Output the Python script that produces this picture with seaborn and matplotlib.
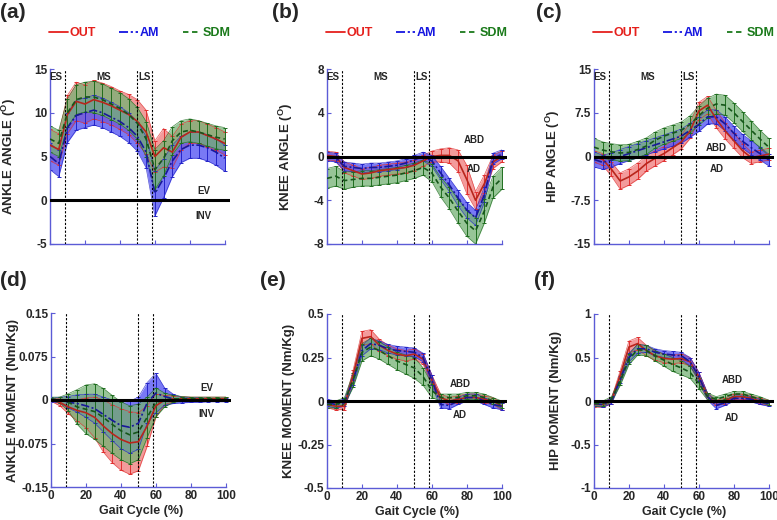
import numpy as np
import pandas as pd
import matplotlib
matplotlib.use('Agg')
import matplotlib.pyplot as plt
import matplotlib.transforms as mtransforms
from matplotlib.lines import Line2D
import seaborn as sns

# gait cycle sampling (%)
pct = list(range(0, 101, 5))
groups = ['OUT', 'AM', 'SDM']

# (a) ankle angle (deg)
ankle_ang_out = [6.3, 5.8, 9.8, 11.3, 11.0, 11.5, 11.2, 10.8, 10.3, 9.8, 9.0, 7.8, 5.0, 6.0, 5.5, 7.2, 7.8, 7.8, 7.4, 7.0, 6.5]
ankle_ang_out_sd = [1.8, 1.8, 2.2, 2.2, 2.2, 2.2, 2.2, 2.2, 2.2, 2.3, 2.5, 2.5, 1.8, 2.2, 1.8, 1.5, 1.3, 1.3, 1.3, 1.3, 1.3]
ankle_ang_am = [5.0, 4.2, 8.3, 9.7, 10.0, 10.3, 10.0, 9.5, 9.0, 8.3, 7.3, 5.5, 0.8, 2.5, 4.5, 5.8, 6.3, 6.3, 6.0, 5.5, 4.8]
ankle_ang_am_sd = [1.5, 1.5, 1.7, 1.7, 1.7, 1.7, 1.7, 1.7, 1.7, 1.7, 1.7, 1.8, 2.6, 2.2, 1.8, 1.5, 1.5, 1.5, 1.5, 1.5, 1.5]
ankle_ang_sdm = [7.0, 6.5, 10.0, 11.5, 11.8, 11.8, 11.5, 11.0, 10.5, 9.8, 8.8, 7.0, 3.5, 4.8, 6.8, 7.8, 8.0, 7.8, 7.5, 7.2, 7.0]
ankle_ang_sdm_sd = [1.5, 1.5, 1.6, 1.7, 1.7, 1.8, 1.8, 1.8, 1.8, 1.8, 1.8, 2.0, 2.3, 2.0, 1.6, 1.3, 1.3, 1.3, 1.3, 1.3, 1.3]

# (b) knee angle (deg)
knee_ang_out = [0.1, 0.0, -1.0, -1.3, -1.6, -1.5, -1.3, -1.2, -1.1, -1.0, -0.8, -0.4, 0.0, 0.1, 0.1, -0.4, -2.1, -4.0, -2.5, -0.5, 0.0]
knee_ang_out_sd = [0.4, 0.4, 0.5, 0.5, 0.5, 0.5, 0.5, 0.5, 0.5, 0.5, 0.5, 0.5, 0.5, 0.6, 0.7, 1.0, 1.3, 0.8, 0.8, 0.6, 0.5]
knee_ang_am = [0.0, -0.1, -0.9, -1.0, -1.1, -1.0, -1.0, -0.9, -0.8, -0.6, -0.3, 0.0, -0.4, -1.5, -2.6, -3.8, -4.9, -5.6, -3.5, -0.2, 0.2]
knee_ang_am_sd = [0.4, 0.4, 0.4, 0.4, 0.4, 0.4, 0.4, 0.4, 0.4, 0.4, 0.4, 0.4, 0.5, 0.6, 0.6, 0.7, 0.7, 0.7, 0.7, 0.5, 0.4]
knee_ang_sdm = [-2.0, -1.8, -2.2, -2.1, -2.0, -2.0, -1.9, -1.8, -1.7, -1.5, -1.3, -1.0, -1.5, -2.8, -3.8, -5.0, -6.1, -6.8, -5.0, -2.8, -2.0]
knee_ang_sdm_sd = [0.9, 0.9, 0.8, 0.7, 0.7, 0.7, 0.7, 0.7, 0.7, 0.7, 0.7, 0.7, 0.8, 0.9, 1.0, 1.1, 1.2, 1.2, 1.1, 1.0, 1.0]

# (c) hip angle (deg)
hip_ang_out = [0.0, -0.5, -2.2, -4.2, -3.5, -2.5, -1.2, -0.3, 0.5, 1.5, 2.5, 4.4, 7.8, 8.8, 6.4, 4.4, 2.7, 1.0, -0.2, 0.1, 0.4]
hip_ang_out_sd = [1.0, 1.0, 1.2, 1.4, 1.4, 1.4, 1.3, 1.3, 1.2, 1.2, 1.2, 1.3, 1.5, 1.5, 1.5, 1.4, 1.3, 1.2, 1.0, 1.0, 1.0]
hip_ang_am = [-0.5, -1.0, -0.6, 0.0, 0.5, 1.0, 1.5, 2.0, 2.5, 3.0, 3.5, 4.5, 5.5, 6.8, 6.8, 5.6, 4.0, 2.6, 1.5, 0.5, -0.6]
hip_ang_am_sd = [1.3, 1.2, 1.2, 1.2, 1.2, 1.2, 1.2, 1.2, 1.2, 1.2, 1.2, 1.2, 1.2, 1.2, 1.2, 1.2, 1.2, 1.2, 1.2, 1.1, 1.0]
hip_ang_sdm = [1.6, 1.1, 0.8, 0.6, 0.7, 1.2, 1.8, 2.8, 3.5, 4.0, 4.5, 5.5, 7.0, 8.3, 9.0, 8.8, 7.5, 6.0, 4.5, 3.0, 1.6]
hip_ang_sdm_sd = [1.5, 1.4, 1.4, 1.4, 1.4, 1.4, 1.4, 1.4, 1.4, 1.4, 1.4, 1.5, 1.6, 1.7, 1.7, 1.7, 1.7, 1.7, 1.6, 1.5, 1.5]

# (d) ankle moment (Nm/Kg)
ankle_mom_out = [0.0, -0.004, -0.012, -0.018, -0.022, -0.03, -0.045, -0.058, -0.068, -0.074, -0.072, -0.045, -0.01, 0.0, 0.002, 0.002, 0.002, 0.002, 0.002, 0.002, 0.002]
ankle_mom_out_sd = [0.002, 0.006, 0.012, 0.018, 0.026, 0.035, 0.045, 0.05, 0.053, 0.054, 0.05, 0.035, 0.02, 0.008, 0.005, 0.004, 0.003, 0.003, 0.003, 0.003, 0.003]
ankle_mom_am = [0.0, 0.0, -0.004, -0.006, -0.01, -0.015, -0.025, -0.035, -0.044, -0.047, -0.04, -0.005, 0.012, 0.006, 0.002, 0.0, 0.0, 0.0, 0.0, 0.0, 0.0]
ankle_mom_am_sd = [0.003, 0.005, 0.01, 0.015, 0.02, 0.025, 0.03, 0.035, 0.04, 0.045, 0.045, 0.035, 0.034, 0.015, 0.008, 0.005, 0.004, 0.004, 0.003, 0.003, 0.003]
ankle_mom_sdm = [0.002, 0.0, -0.004, -0.012, -0.016, -0.02, -0.03, -0.042, -0.053, -0.06, -0.055, -0.03, -0.004, 0.0, 0.002, 0.002, 0.002, 0.002, 0.002, 0.002, 0.002]
ankle_mom_sdm_sd = [0.003, 0.005, 0.015, 0.03, 0.042, 0.048, 0.05, 0.05, 0.05, 0.05, 0.048, 0.035, 0.025, 0.012, 0.006, 0.004, 0.003, 0.003, 0.003, 0.003, 0.003]

# (e) knee moment (Nm/Kg)
knee_mom_out = [-0.02, -0.03, -0.03, 0.15, 0.36, 0.37, 0.32, 0.29, 0.27, 0.26, 0.27, 0.24, 0.12, 0.02, 0.0, 0.01, 0.02, 0.02, 0.01, 0.0, -0.03]
knee_mom_out_sd = [0.02, 0.02, 0.02, 0.03, 0.04, 0.04, 0.035, 0.03, 0.03, 0.03, 0.03, 0.03, 0.03, 0.02, 0.02, 0.02, 0.02, 0.02, 0.02, 0.02, 0.02]
knee_mom_am = [-0.01, -0.02, -0.01, 0.12, 0.29, 0.33, 0.32, 0.30, 0.29, 0.285, 0.28, 0.25, 0.12, -0.02, -0.025, 0.0, 0.02, 0.02, 0.0, -0.02, -0.03]
knee_mom_am_sd = [0.02, 0.02, 0.02, 0.03, 0.03, 0.03, 0.025, 0.025, 0.025, 0.025, 0.025, 0.025, 0.03, 0.02, 0.02, 0.02, 0.02, 0.02, 0.02, 0.02, 0.02]
knee_mom_sdm = [-0.02, -0.02, 0.0, 0.12, 0.28, 0.31, 0.29, 0.26, 0.23, 0.21, 0.19, 0.14, 0.06, 0.02, 0.02, 0.02, 0.03, 0.03, 0.02, 0.0, -0.02]
knee_mom_sdm_sd = [0.02, 0.02, 0.02, 0.04, 0.05, 0.05, 0.05, 0.05, 0.05, 0.055, 0.06, 0.05, 0.04, 0.02, 0.02, 0.02, 0.02, 0.02, 0.02, 0.02, 0.02]

# (f) hip moment (Nm/Kg)
hip_mom_out = [-0.04, -0.04, 0.0, 0.3, 0.62, 0.66, 0.58, 0.52, 0.49, 0.48, 0.49, 0.45, 0.28, 0.05, -0.02, 0.0, 0.05, 0.05, 0.03, 0.0, -0.02]
hip_mom_out_sd = [0.03, 0.03, 0.03, 0.05, 0.07, 0.07, 0.06, 0.05, 0.05, 0.05, 0.05, 0.05, 0.05, 0.04, 0.03, 0.03, 0.03, 0.03, 0.03, 0.03, 0.03]
hip_mom_am = [-0.03, -0.04, 0.0, 0.25, 0.5, 0.6, 0.6, 0.56, 0.54, 0.53, 0.52, 0.45, 0.28, 0.05, -0.05, -0.02, 0.03, 0.03, 0.02, -0.01, -0.03]
hip_mom_am_sd = [0.03, 0.03, 0.03, 0.04, 0.05, 0.05, 0.04, 0.04, 0.04, 0.04, 0.04, 0.05, 0.05, 0.04, 0.04, 0.03, 0.03, 0.03, 0.03, 0.03, 0.03]
hip_mom_sdm = [-0.03, -0.03, 0.02, 0.23, 0.48, 0.59, 0.58, 0.52, 0.47, 0.42, 0.38, 0.33, 0.2, 0.05, 0.02, 0.05, 0.08, 0.08, 0.05, 0.02, -0.02]
hip_mom_sdm_sd = [0.03, 0.03, 0.03, 0.05, 0.06, 0.06, 0.06, 0.06, 0.07, 0.08, 0.08, 0.07, 0.06, 0.04, 0.03, 0.03, 0.03, 0.03, 0.03, 0.03, 0.03]

# phase boundaries (% gait cycle) and phase labels
phase_lines = [8.5, 50, 58.5]
phase_labels = ['ES', 'MS', 'LS']
phase_label_x = [3.5, 31, 54]

legend_col = {'OUT': '#e5201c', 'AM': '#1515e0', 'SDM': '#1b7a1b'}
line_col = {'OUT': '#b8261c', 'AM': '#18189a', 'SDM': '#16561a'}
band_col = {'OUT': '#f07a7a', 'AM': '#4c4cf2', 'SDM': '#74b274'}
bar_col = {'OUT': '#e03030', 'AM': '#2424c8', 'SDM': '#1f6e1f'}
dash_map = {'OUT': '', 'AM': (5, 1.5, 1.2, 1.5), 'SDM': (3, 2)}
spine_col = '#5b5bd6'

panels = [
    dict(letter='(a)', pos=[50, 69, 180, 175], ylabel=r'ANKLE ANGLE ($\mathbf{^{O}}$)',
         ylim=(-5, 15), yticks=[-5, 0, 5, 10, 15], yticklabels=['-5', '0', '5', '10', '15'],
         data=[ankle_ang_out, ankle_ang_am, ankle_ang_sdm], sd=[ankle_ang_out_sd, ankle_ang_am_sd, ankle_ang_sdm_sd],
         notes=[('EV', 88, 1.1), ('INV', 88, -1.8)], top=True, lx=0, ly=12),
    dict(letter='(b)', pos=[327, 69, 180, 175], ylabel=r'KNEE ANGLE ($\mathbf{^{O}}$)',
         ylim=(-8, 8), yticks=[-8, -4, 0, 4, 8], yticklabels=['-8', '-4', '0', '4', '8'],
         data=[knee_ang_out, knee_ang_am, knee_ang_sdm], sd=[knee_ang_out_sd, knee_ang_am_sd, knee_ang_sdm_sd],
         notes=[('ABD', 84, 1.5), ('AD', 84, -1.1)], top=True, lx=272, ly=12),
    dict(letter='(c)', pos=[594, 69, 180, 175], ylabel=r'HIP ANGLE ($\mathbf{^{O}}$)',
         ylim=(-15, 15), yticks=[-15, -7.5, 0, 7.5, 15], yticklabels=['-15', '-7.5', '0', '7.5', '15'],
         data=[hip_ang_out, hip_ang_am, hip_ang_sdm], sd=[hip_ang_out_sd, hip_ang_am_sd, hip_ang_sdm_sd],
         notes=[('ABD', 70, 1.4), ('AD', 70, -2.2)], top=True, lx=536, ly=12),
    dict(letter='(d)', pos=[51, 313, 180, 174], ylabel='ANKLE MOMENT (Nm/Kg)',
         ylim=(-0.15, 0.15), yticks=[-0.15, -0.075, 0, 0.075, 0.15], yticklabels=['-0.15', '-0.075', '0', '0.075', '0.15'],
         data=[ankle_mom_out, ankle_mom_am, ankle_mom_sdm], sd=[ankle_mom_out_sd, ankle_mom_am_sd, ankle_mom_sdm_sd],
         notes=[('EV', 89, 0.021), ('INV', 89, -0.024)], top=False, lx=0, ly=281),
    dict(letter='(e)', pos=[327, 314, 180, 174], ylabel='KNEE MOMENT (Nm/Kg)',
         ylim=(-0.5, 0.5), yticks=[-0.5, -0.25, 0, 0.25, 0.5], yticklabels=['-0.5', '-0.25', '0', '0.25', '0.5'],
         data=[knee_mom_out, knee_mom_am, knee_mom_sdm], sd=[knee_mom_out_sd, knee_mom_am_sd, knee_mom_sdm_sd],
         notes=[('ABD', 76, 0.098), ('AD', 76, -0.08)], top=False, lx=260, ly=281),
    dict(letter='(f)', pos=[594, 314, 180, 174], ylabel='HIP MOMENT (Nm/Kg)',
         ylim=(-1, 1), yticks=[-1, -0.5, 0, 0.5, 1], yticklabels=['-1', '-0.5', '0', '0.5', '1'],
         data=[hip_mom_out, hip_mom_am, hip_mom_sdm], sd=[hip_mom_out_sd, hip_mom_am_sd, hip_mom_sdm_sd],
         notes=[('ABD', 79, 0.24), ('AD', 79, -0.2)], top=False, lx=534, ly=281),
]

sns.set_style('ticks')
plt.rcParams['font.family'] = ['Liberation Sans', 'DejaVu Sans']
plt.rcParams['font.weight'] = 'bold'
plt.rcParams['axes.labelweight'] = 'bold'
plt.rcParams['mathtext.fontset'] = 'custom'
plt.rcParams['mathtext.bf'] = 'Liberation Sans:bold'
plt.rcParams['mathtext.rm'] = 'Liberation Sans:bold'

W, H = 777, 520
fig = plt.figure(figsize=(W / 100, H / 100), dpi=100)

for p in panels:
    x0, y0, w, h = p['pos']
    ax = fig.add_axes([x0 / W, 1 - (y0 + h) / H, w / W, h / H])

    # long table for seaborn
    frames = []
    for g, vals in zip(groups, p['data']):
        frames.append(pd.DataFrame({'pct': pct, 'val': vals, 'group': g}))
    df = pd.concat(frames, ignore_index=True)

    # SD bands and error bars
    for g, vals, sd in zip(groups, p['data'], p['sd']):
        m = np.array(vals)
        s = np.array(sd)
        ax.fill_between(pct, m - s, m + s, color=band_col[g], alpha=0.75, lw=0, zorder=1)
        ax.errorbar(pct, m, yerr=s, fmt='none', ecolor=bar_col[g], elinewidth=0.7,
                    capsize=1.6, capthick=0.7, zorder=2)
        ax.plot(pct, m + s, color=bar_col[g], lw=0.5, alpha=0.8, zorder=2)
        ax.plot(pct, m - s, color=bar_col[g], lw=0.5, alpha=0.8, zorder=2)

    sns.lineplot(data=df, x='pct', y='val', hue='group', style='group',
                 palette=line_col, dashes=dash_map, legend=False, lw=1.2, ax=ax, zorder=4)

    ax.axhline(0, color='black', lw=2.2, zorder=5)
    for xv in phase_lines:
        ax.axvline(xv, color='black', lw=0.8, ls=(0, (2, 1.5)), zorder=3)

    ax.set_xlim(0, 103)
    ax.set_ylim(*p['ylim'])
    ax.set_yticks(p['yticks'])
    ax.set_yticklabels(p['yticklabels'])
    ax.set_xticks([0, 20, 40, 60, 80, 100])
    ax.tick_params(direction='in', length=3, color=spine_col, labelsize=8.5, pad=2)
    for side in ['top', 'right']:
        ax.spines[side].set_visible(False)
    for side in ['left', 'bottom']:
        ax.spines[side].set_color(spine_col)
        ax.spines[side].set_linewidth(1.0)
    ax.spines['bottom'].set_bounds(0, 100)

    ax.set_ylabel(p['ylabel'], fontsize=9.5, fontweight='bold')
    ax.yaxis.set_label_coords(-0.18, 0.5)

    if p['top']:
        ax.set_xticklabels([])
        ax.set_xlabel('')
        trans = mtransforms.blended_transform_factory(ax.transData, ax.transAxes)
        for lab, lx in zip(phase_labels, phase_label_x):
            ax.text(lx, 0.955, lab, transform=trans, fontsize=7, fontweight='bold', ha='center', va='center')
        handles = [Line2D([0], [0], color=legend_col[g], lw=1.3,
                          dashes=dash_map[g] if dash_map[g] else (None, None)) for g in groups]
        leg = ax.legend(handles, groups, ncol=3, loc='center', bbox_to_anchor=(0.5, 1.205),
                        frameon=False, handlelength=1.5, handletextpad=0.1, columnspacing=1.9,
                        borderpad=0, borderaxespad=0, prop={'weight': 'bold', 'size': 9})
        for t, g in zip(leg.get_texts(), groups):
            t.set_color(legend_col[g])
    else:
        ax.set_xlabel('Gait Cycle (%)', fontsize=9, fontweight='bold', labelpad=2)

    for txt, xv, yv in p['notes']:
        ax.text(xv, yv, txt, fontsize=7, fontweight='bold', ha='center', va='center', zorder=6)

    fig.text(p['lx'] / W, 1 - p['ly'] / H, p['letter'], fontsize=15, fontweight='bold', va='center', ha='left')

fig.savefig('out.png', dpi=100)
